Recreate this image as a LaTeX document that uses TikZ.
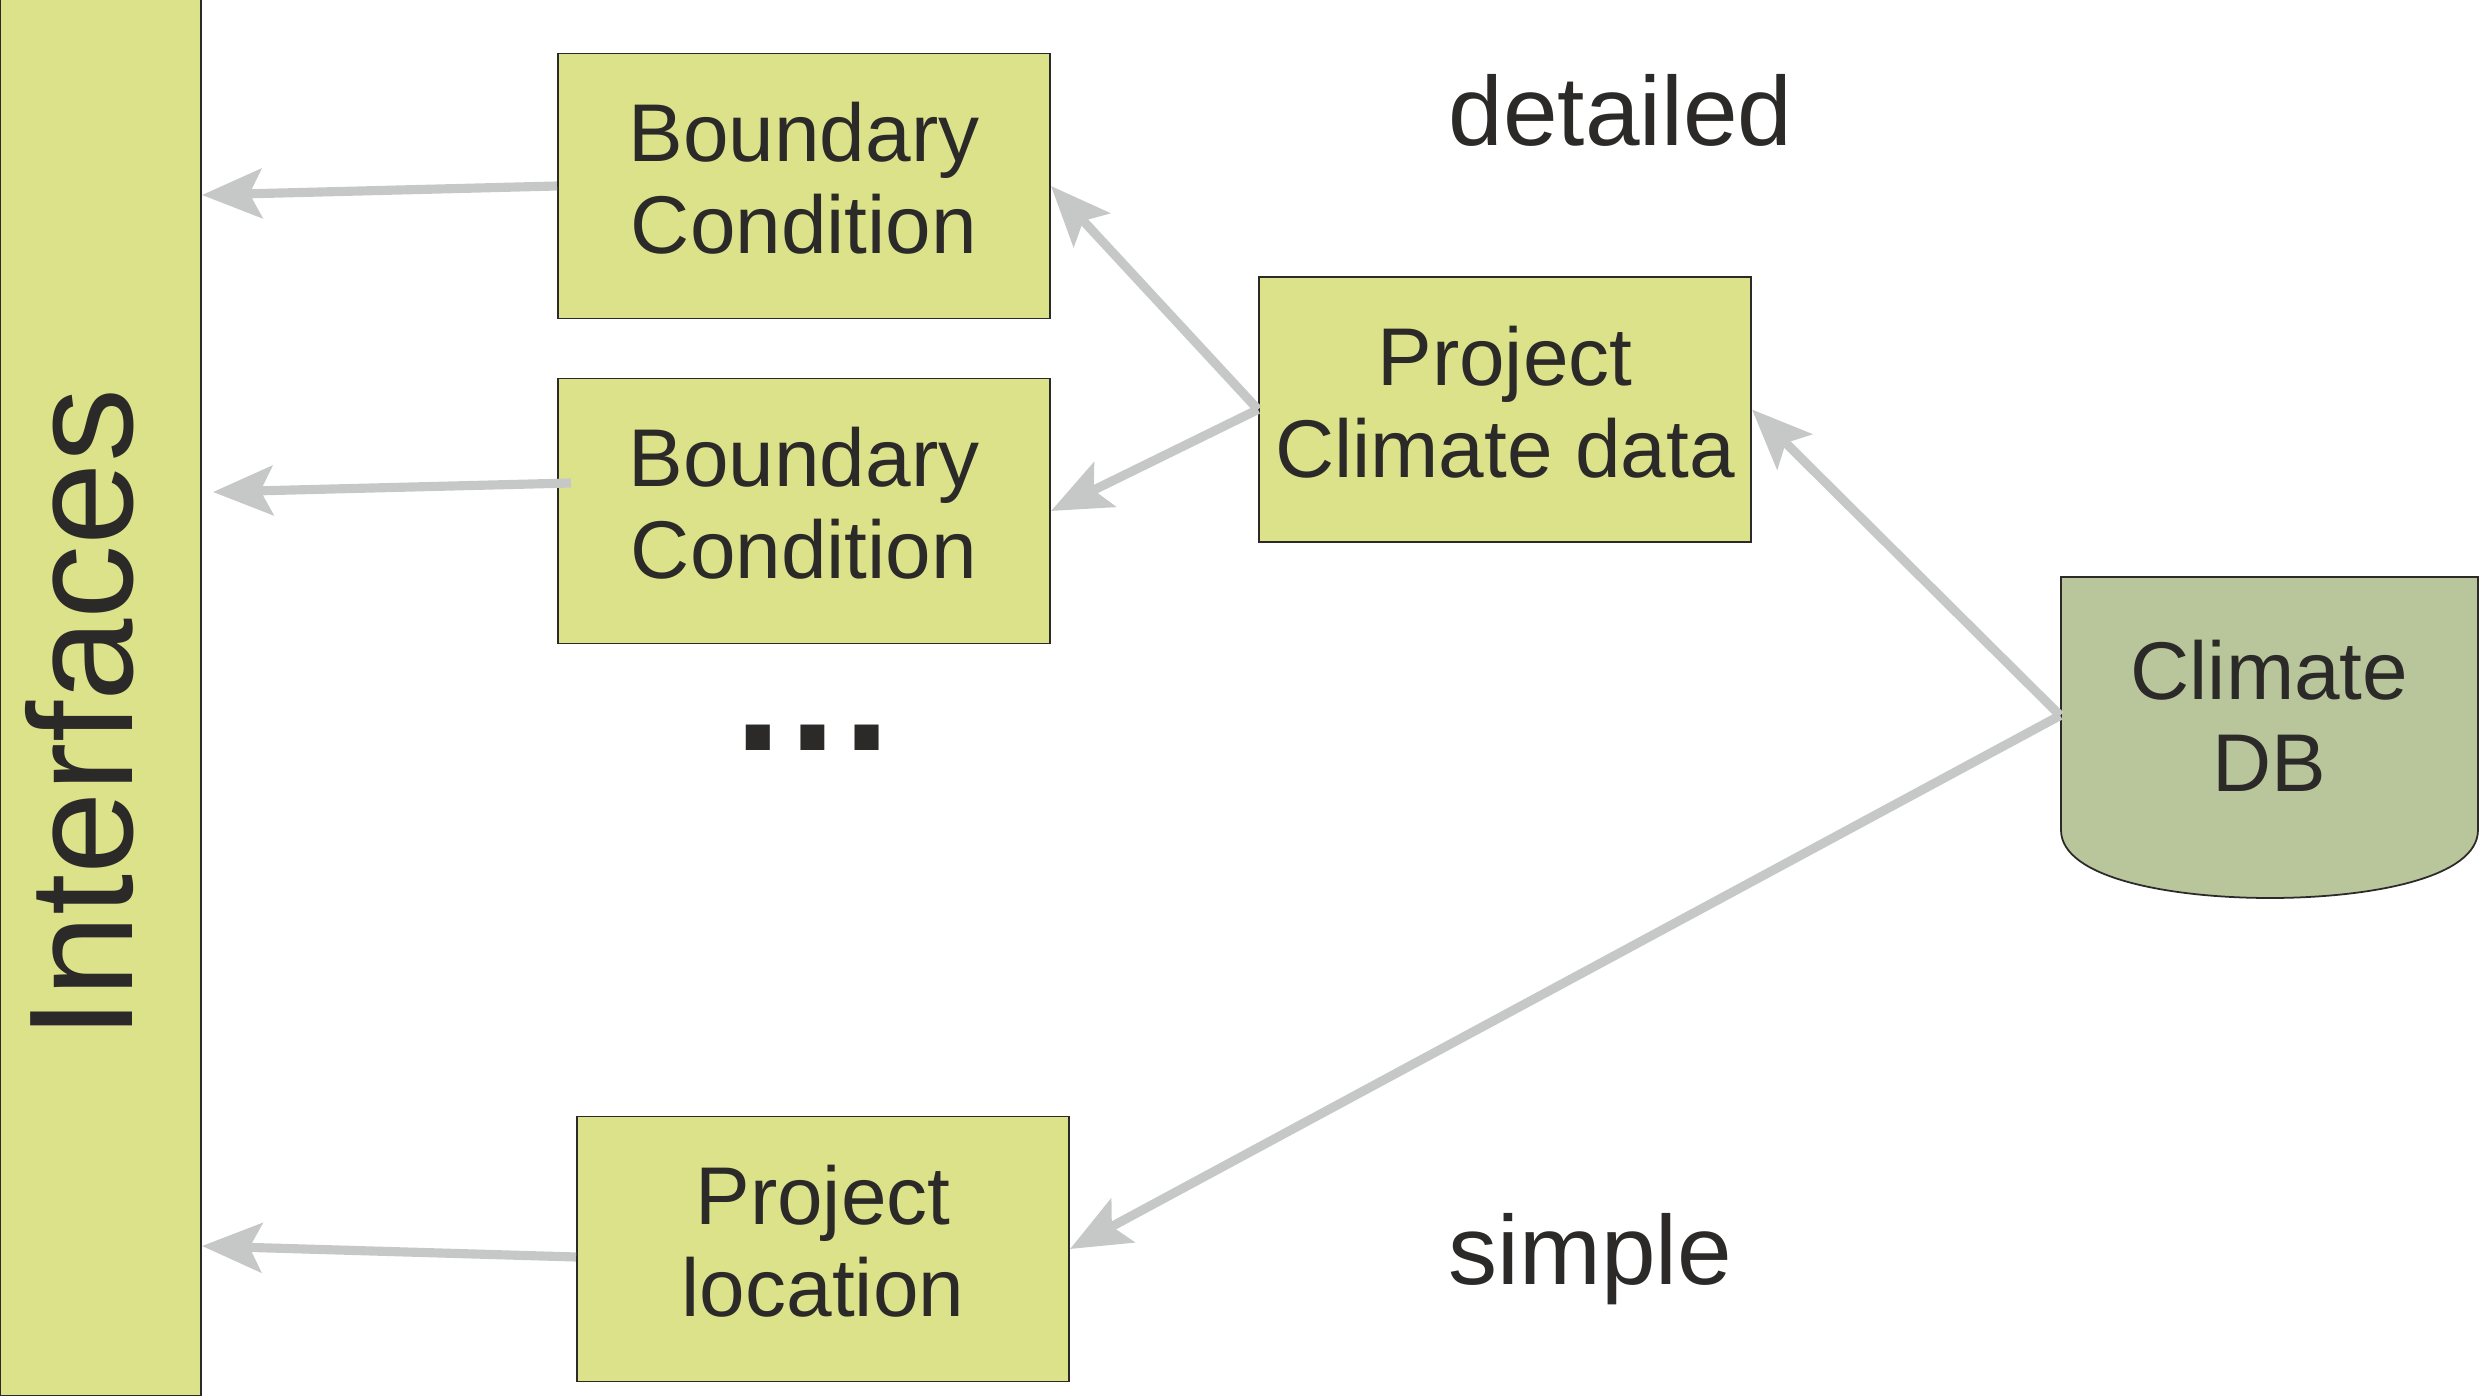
\documentclass[tikz,border=0pt]{standalone}
\usepackage{fontspec}
\setmainfont{Liberation Sans}
\usepackage{xcolor}
\usetikzlibrary{arrows.meta,calc}

\definecolor{boxfill}{RGB}{220,226,138}
\definecolor{dbfill}{RGB}{185,197,154}
\definecolor{arrowgray}{RGB}{198,199,199}
\definecolor{inkdark}{RGB}{43,42,41}

\begin{document}
\begin{tikzpicture}[x=0.01cm,y=-0.01cm,
  blockbox/.style={draw=inkdark,line width=0.5pt,fill=boxfill,minimum width=4.92cm,minimum height=2.65cm,
    align=center,text depth=4.5pt,text=inkdark,font=\fontsize{23.3}{26.2}\selectfont},
  flow/.style={draw=arrowgray,line width=2.6pt,-{Stealth[length=17pt,width=14pt,inset=3.5pt]}},
  caption/.style={text=inkdark,font=\fontsize{27.9}{32}\selectfont}]
\tikzstyle{every node}+=[inner sep=0pt]
\useasboundingbox (0,0) rectangle (2480,1397);
% interfaces bar
\node [draw=inkdark,line width=0.5pt,fill=boxfill,minimum width=2.01cm,minimum height=13.95cm] (intf) at (100.5,697.5) {};
\node [rotate=90,text=inkdark,font=\fontsize{42.1}{48}\selectfont] (intflabel) at (80,714) {Interfaces};
% blocks
\node [blockbox] (bc1) at (804,186) {Boundary\\Condition};
\node [blockbox] (bc2) at (804,511) {Boundary\\Condition};
\node [blockbox] (pcd) at (1505,409.5) {Project\\Climate data};
\node [blockbox] (pl) at (823,1249) {Project\\location};
\node [text=inkdark,font=\fontsize{48.6}{50}\selectfont\bfseries,anchor=base] (dots) at (813,750) {…};
% climate database
\draw [draw=inkdark,line width=0.5pt,fill=dbfill] (2061,577) -- (2478,577) -- (2478,830)
  .. controls (2478,878) and (2370,898) .. (2270,898)
  .. controls (2170,898) and (2061,878) .. (2061,830) -- cycle;
\node [minimum width=4.17cm,minimum height=2.77cm,align=center,text=inkdark,
  font=\fontsize{23.3}{26.2}\selectfont] (db) at (2269.5,715.5) {Climate\\DB};
% captions
\node [caption,anchor=base west] (detailed) at (1448,146) {detailed};
\node [caption,anchor=base west] (simple) at (1448,1284) {simple};
% arrows
\coordinate (t1) at (202,195);
\coordinate (t2) at (213,492);
\coordinate (t3) at (202,1246);
\draw [flow] (bc1.west) -- (t1);
\draw [flow] ($(bc2.west)+(14,-28)$) -- (t2);
\draw [flow] ($(pl.west)+(0,8)$) -- (t3);
\draw [flow] (pcd.west) -- (bc1.east);
\draw [flow] (pcd.west) -- (bc2.east);
\draw [flow] (db.west) -- (pcd.east);
\draw [flow] (db.west) -- (pl.east);
\end{tikzpicture}
\end{document}
